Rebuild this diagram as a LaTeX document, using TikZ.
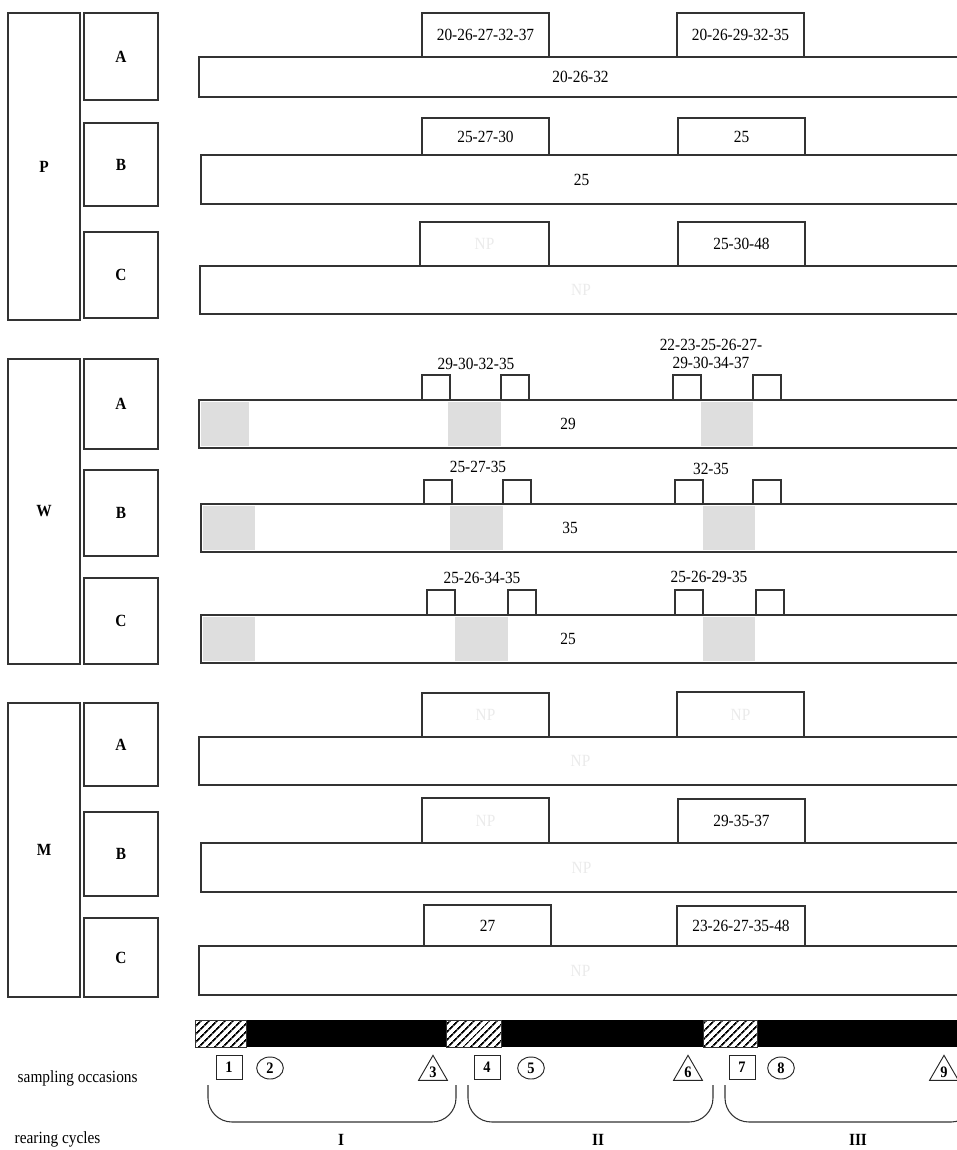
\documentclass[tikz,border=0pt]{standalone}
\usepackage{fontspec}
\setmainfont{Liberation Serif}[FakeStretch=0.9]
\usetikzlibrary{fit,shapes.geometric,patterns.meta}

\begin{document}
\begin{tikzpicture}[x=0.75pt,y=-0.75pt,
  font=\fontsize{12.8}{14}\selectfont,
  frame/.style={draw=black!80,line width=0.9pt,inner sep=0pt,fill=white},
  grp/.style={frame,label={[font=\fontsize{12.8}{14}\selectfont\bfseries]center:#1}},
  bar/.style={frame,label={center:#1}},
  bar/.default={},
  topbox/.style={frame,label={center:#1}},
  topbox/.default={},
  np/.style={label={[text=black!8]center:NP}},
  speck/.style={draw=none,fill=black!13,inner sep=0pt},
  hatch/.style={draw=black!80,line width=0.4pt,inner sep=0pt,preaction={fill=white},
    pattern={Lines[angle=45,distance=4pt,line width=1.4pt]}},
  occ/.style={draw=black!85,line width=0.7pt,inner sep=0pt,font=\fontsize{12}{13}\selectfont\bfseries},
  cyc/.style={draw=black!80,line width=0.8pt,rounded corners=18pt}]
\useasboundingbox (0,0) rectangle (957,1150);
\clip (0,0) rectangle (957,1150);

% P
\node[grp=P,fit={(8,13)(80,320)}] (P) {};
\node[grp=A,fit={(84,13)(158,100)}] (PA) {};
\node[grp=B,fit={(84,123)(158,206)}] (PB) {};
\node[grp=C,fit={(84,232)(158,318)}] (PC) {};
\node[bar=20-26-32,fit={(199,57)(962,97)}] (PAbar) {};
\node[topbox=20-26-27-32-37,fit={(422,13)(549,57)}] (PA1) {};
\node[topbox=20-26-29-32-35,fit={(677,13)(804,57)}] (PA2) {};
\node[bar=25,fit={(201,155)(962,204)}] (PBbar) {};
\node[topbox=25-27-30,fit={(422,118)(549,155)}] (PB1) {};
\node[topbox=25,fit={(678,118)(805,155)}] (PB2) {};
\node[bar,np,fit={(200,266)(962,314)}] (PCbar) {};
\node[topbox,np,fit={(420,222)(549,266)}] (PC1) {};
\node[topbox=25-30-48,fit={(678,222)(805,266)}] (PC2) {};

% W
\node[grp=W,fit={(8,359)(80,664)}] (W) {};
\node[grp=A,fit={(84,359)(158,449)}] (WA) {};
\node[grp=B,fit={(84,470)(158,556)}] (WB) {};
\node[grp=C,fit={(84,578)(158,664)}] (WC) {};

\node[bar,fit={(199,400)(962,448)}] (WAbar) {};
\node[speck,fit={(201,402)(249,446)}] (WAs0) {};
\node[speck,fit={(448,402)(501,446)}] (WAs1) {};
\node[speck,fit={(701,402)(753,446)}] (WAs2) {};
\node (WAval) at (568,424) {29};
\node[topbox,fit={(422,375)(450,400)}] (WA1a) {};
\node[topbox,fit={(501,375)(529,400)}] (WA1b) {};
\node[topbox,fit={(673,375)(701,400)}] (WA2a) {};
\node[topbox,fit={(753,375)(781,400)}] (WA2b) {};
\node (WA1) at (476,364) {29-30-32-35};
\node[align=center] (WA2) at (711,354) {22-23-25-26-27-\\29-30-34-37};

\node[bar,fit={(201,504)(962,552)}] (WBbar) {};
\node[speck,fit={(203,506)(255,550)}] (WBs0) {};
\node[speck,fit={(450,506)(503,550)}] (WBs1) {};
\node[speck,fit={(703,506)(755,550)}] (WBs2) {};
\node (WBval) at (570,528) {35};
\node[topbox,fit={(424,480)(452,504)}] (WB1a) {};
\node[topbox,fit={(503,480)(531,504)}] (WB1b) {};
\node[topbox,fit={(675,480)(703,504)}] (WB2a) {};
\node[topbox,fit={(753,480)(781,504)}] (WB2b) {};
\node (WB1) at (478,467) {25-27-35};
\node (WB2) at (711,469) {32-35};

\node[bar,fit={(201,615)(962,663)}] (WCbar) {};
\node[speck,fit={(203,617)(255,661)}] (WCs0) {};
\node[speck,fit={(455,617)(508,661)}] (WCs1) {};
\node[speck,fit={(703,617)(755,661)}] (WCs2) {};
\node (WCval) at (568,639) {25};
\node[topbox,fit={(427,590)(455,615)}] (WC1a) {};
\node[topbox,fit={(508,590)(536,615)}] (WC1b) {};
\node[topbox,fit={(675,590)(703,615)}] (WC2a) {};
\node[topbox,fit={(756,590)(784,615)}] (WC2b) {};
\node (WC1) at (482,578) {25-26-34-35};
\node (WC2) at (709,577) {25-26-29-35};

% M
\node[grp=M,fit={(8,703)(80,997)}] (M) {};
\node[grp=A,fit={(84,703)(158,786)}] (MA) {};
\node[grp=B,fit={(84,812)(158,896)}] (MB) {};
\node[grp=C,fit={(84,918)(158,997)}] (MC) {};
\node[bar,np,fit={(199,737)(962,785)}] (MAbar) {};
\node[topbox,np,fit={(422,693)(549,737)}] (MA1) {};
\node[topbox,np,fit={(677,692)(804,737)}] (MA2) {};
\node[bar,np,fit={(201,843)(962,892)}] (MBbar) {};
\node[topbox,np,fit={(422,798)(549,843)}] (MB1) {};
\node[topbox=29-35-37,fit={(678,799)(805,843)}] (MB2) {};
\node[bar,np,fit={(199,946)(962,995)}] (MCbar) {};
\node[topbox=27,fit={(424,905)(551,946)}] (MC1) {};
\node[topbox=23-26-27-35-48,fit={(677,906)(805,946)}] (MC2) {};

% time line
\node[fill=black,inner sep=0pt,fit={(195,1020)(962,1047)}] (tl) {};
\node[hatch,fit={(195,1020)(246,1047)}] (h1) {};
\node[hatch,fit={(446,1020)(501,1047)}] (h2) {};
\node[hatch,fit={(703,1020)(757,1047)}] (h3) {};

\node[anchor=west] (occlbl) at (13,1078) {sampling occasions};
\node[anchor=west] (cyclbl) at (10,1139) {rearing cycles};

\node[occ,rectangle,minimum width=19.5pt,minimum height=18pt] (s1) at (229,1067) {1};
\node[occ,ellipse,minimum width=20pt,minimum height=16.5pt] (s2) at (270,1068) {2};
\node[occ,regular polygon,regular polygon sides=3,minimum size=25pt] (s3) at (433,1072) {3};
\node[occ,rectangle,minimum width=19.5pt,minimum height=18pt] (s4) at (487,1067) {4};
\node[occ,ellipse,minimum width=20pt,minimum height=16.5pt] (s5) at (531,1068) {5};
\node[occ,regular polygon,regular polygon sides=3,minimum size=25pt] (s6) at (688,1072) {6};
\node[occ,rectangle,minimum width=19.5pt,minimum height=18pt] (s7) at (742,1067) {7};
\node[occ,ellipse,minimum width=20pt,minimum height=16.5pt] (s8) at (781,1068) {8};
\node[occ,regular polygon,regular polygon sides=3,minimum size=25pt] (s9) at (944,1072) {9};

\coordinate (b1l) at (208,1085);
\coordinate (b1m) at (332,1122);
\coordinate (b1r) at (456,1085);
\coordinate (b2l) at (468,1085);
\coordinate (b2m) at (590,1122);
\coordinate (b2r) at (713,1085);
\coordinate (b3l) at (725,1085);
\coordinate (b3m) at (850,1122);
\coordinate (b3r) at (975,1085);
\draw[cyc] (b1l) |- (b1m) -| (b1r);
\draw[cyc] (b2l) |- (b2m) -| (b2r);
\draw[cyc] (b3l) |- (b3m) -| (b3r);
\node[font=\fontsize{12.8}{14}\selectfont\bfseries] (c1) at (341,1140) {I};
\node[font=\fontsize{12.8}{14}\selectfont\bfseries] (c2) at (598,1140) {II};
\node[font=\fontsize{12.8}{14}\selectfont\bfseries] (c3) at (858,1140) {III};
\end{tikzpicture}
\end{document}
